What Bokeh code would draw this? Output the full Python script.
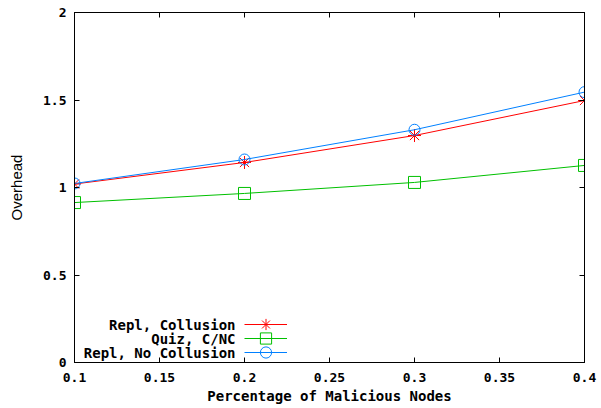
from bokeh.plotting import figure
from bokeh.models import Range1d, FixedTicker, LinearAxis, Legend, LegendItem, Label
from bokeh.embed import file_html
from bokeh.resources import INLINE

x_vals = [0.1, 0.2, 0.3, 0.4]
repl_collusion = [1.02, 1.143, 1.297, 1.497]
quiz_cnc = [0.914, 0.966, 1.029, 1.126]
repl_no_collusion = [1.023, 1.16, 1.33, 1.545]
series_names = ["Repl, Collusion", "Quiz, C/NC", "Repl, No Collusion"]
series_colors = ["#ff0000", "#00c000", "#0080ff"]

x_ticks = [0.1, 0.15, 0.2, 0.25, 0.3, 0.35, 0.4]
x_tick_labels = ["0.1", "0.15", "0.2", "0.25", "0.3", "0.35", "0.4"]
y_ticks = [0, 0.5, 1, 1.5, 2]
y_tick_labels = ["0", "0.5", "1", "1.5", "2"]

MONO = "DejaVu Sans Mono"

p = figure(width=598, height=408, output_backend="svg", toolbar_location=None,
           x_range=Range1d(0.1, 0.4), y_range=Range1d(0, 2),
           min_border_left=74, min_border_right=14, min_border_top=12, min_border_bottom=46)
p.xgrid.visible = False
p.ygrid.visible = False
p.outline_line_color = "black"
p.outline_line_width = 1
p.background_fill_color = "white"
p.border_fill_color = "white"

def style_axis(ax, ticks, labels, show_labels=True):
    ax.ticker = FixedTicker(ticks=ticks)
    if show_labels:
        ax.major_label_overrides = {t: l for t, l in zip(ticks, labels)}
    else:
        ax.major_label_overrides = {t: "" for t in ticks}
        ax.major_label_standoff = 0
    ax.major_tick_in = 5
    ax.major_tick_out = 0
    ax.minor_tick_in = 0
    ax.minor_tick_out = 0
    ax.axis_line_color = "black"
    ax.major_tick_line_color = "black"
    ax.major_label_text_font = MONO
    ax.major_label_text_font_size = "13px"
    ax.major_label_text_font_style = "bold"
    ax.major_label_text_color = "black"

xa = p.xaxis[0]
ya = p.yaxis[0]
style_axis(xa, x_ticks, x_tick_labels)
style_axis(ya, y_ticks, y_tick_labels)
xa.major_label_standoff = 10
ya.major_label_standoff = 8
xa.axis_label = "Percentage of Malicious Nodes"
xa.axis_label_text_font = MONO
xa.axis_label_text_font_size = "14px"
xa.axis_label_text_font_style = "bold"
xa.axis_label_text_color = "black"
xa.axis_label_standoff = 3
ya.axis_label = "Overhead"
ya.axis_label_text_font = "Liberation Sans"
ya.axis_label_text_font_size = "15px"
ya.axis_label_text_font_style = "normal"
ya.axis_label_text_color = "black"
ya.axis_label_standoff = 15

top = LinearAxis()
style_axis(top, x_ticks, x_tick_labels, show_labels=False)
p.add_layout(top, "above")
right = LinearAxis()
style_axis(right, y_ticks, y_tick_labels, show_labels=False)
p.add_layout(right, "right")

data = [repl_collusion, quiz_cnc, repl_no_collusion]
markers = ["asterisk", "square", "circle"]
sizes = [13, 12, 11]
for i, (name, ys, col, mk, sz) in enumerate(zip(series_names, data, series_colors, markers, sizes)):
    l = p.line(x_vals, ys, line_color=col, line_width=1)
    s = p.scatter(x_vals, ys, marker=mk, size=sz, line_color=col, fill_color=None, line_width=1)
    leg = Legend(items=[LegendItem(label=" ", renderers=[l, s])],
                 location=(170, 38 - 14 * i - 14), orientation="vertical",
                 padding=0, margin=0, spacing=0, glyph_width=43, glyph_height=28,
                 label_width=0, label_height=28, label_standoff=0,
                 label_text_font_size="6px", border_line_color=None,
                 background_fill_alpha=0)
    p.add_layout(leg, "center")
    lab = Label(x=161, y=38 - 14 * i, x_units="screen", y_units="screen", text=name,
                text_align="right", text_baseline="middle", text_font=MONO,
                text_font_size="14px", text_font_style="bold", text_color="black")
    p.add_layout(lab)

open("out.html", "w").write(file_html(p, INLINE))
